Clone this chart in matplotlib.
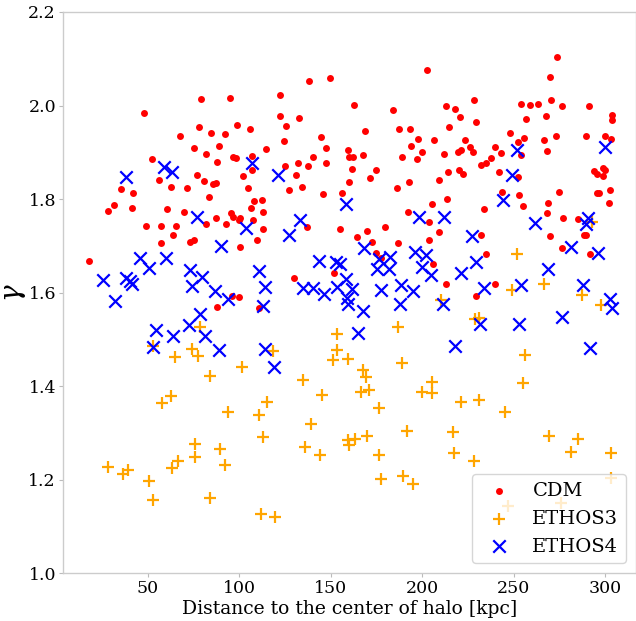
import matplotlib
matplotlib.use("Agg")
import matplotlib.pyplot as plt

cdm_x = [17.9, 79.0, 47.6, 77.9, 84.3, 67.3, 75.3, 81.9, 52.0, 56.2, 62.8, 71.2, 76.6, 80.8, 83.2, 35.2,
         41.8, 31.2, 28.3, 41.2, 60.4, 69.7, 81.5, 48.9, 56.9, 65.3, 63.7, 57.1, 72.8, 75.2, 138.1, 149.7,
         122.0, 95.0, 122.2, 132.6, 125.6, 92.4, 98.8, 105.6, 144.7, 147.4, 124.4, 88.8, 96.3, 98.1, 107.1,
         114.7, 140.4, 147.4, 159.6, 160.0, 87.5, 106.7, 124.9, 132.1, 137.4, 131.1, 134.2, 101.8, 85.7,
         87.0, 104.7, 127.3, 145.7, 156.2, 108.0, 112.5, 106.3, 112.9, 87.2, 95.4, 96.5, 100.3, 99.9, 107.6,
         92.7, 113.1, 155.0, 160.1, 109.9, 100.3, 136.8, 151.7, 130.0, 95.8, 99.6, 88.0, 110.9, 202.4,
         162.8, 183.8, 228.3, 213.2, 217.8, 220.5, 229.4, 168.8, 187.1, 193.4, 214.9, 197.7, 206.6, 194.0,
         223.6, 226.1, 227.8, 219.8, 221.4, 200.1, 189.1, 197.2, 212.0, 162.3, 167.6, 161.7, 175.0, 171.2,
         186.0, 192.8, 209.3, 214.2, 220.2, 222.3, 232.2, 234.9, 237.4, 213.6, 205.6, 233.6, 192.4, 203.9,
         179.8, 164.4, 169.6, 172.5, 174.7, 177.5, 186.6, 209.0, 203.9, 205.9, 213.0, 232.2, 234.9, 229.6,
         273.9, 269.9, 253.9, 259.1, 263.2, 270.6, 276.3, 291.4, 303.8, 303.8, 256.9, 267.7, 248.0, 255.5,
         252.4, 266.4, 273.2, 289.7, 300.1, 303.4, 240.0, 243.3, 254.2, 268.3, 242.0, 252.7, 293.8, 295.4,
         298.7, 300.3, 298.7, 243.7, 253.0, 274.6, 295.4, 296.8, 302.7, 255.3, 269.0, 302.5, 268.1, 276.8,
         285.0, 270.1, 276.6, 288.3, 289.9, 292.1, 240.0]
cdm_y = [1.667, 2.013, 1.985, 1.953, 1.942, 1.934, 1.910, 1.896, 1.886, 1.841, 1.826, 1.824, 1.852, 1.838,
         1.805, 1.821, 1.812, 1.787, 1.775, 1.780, 1.778, 1.773, 1.747, 1.742, 1.742, 1.742, 1.724, 1.705,
         1.707, 1.712, 2.052, 2.059, 2.023, 2.015, 1.978, 1.973, 1.956, 1.939, 1.958, 1.950, 1.933, 1.910,
         1.923, 1.913, 1.890, 1.888, 1.891, 1.908, 1.890, 1.877, 1.905, 1.890, 1.879, 1.861, 1.871, 1.876,
         1.871, 1.851, 1.826, 1.849, 1.832, 1.834, 1.823, 1.819, 1.811, 1.812, 1.796, 1.798, 1.781, 1.772,
         1.759, 1.769, 1.762, 1.760, 1.756, 1.755, 1.747, 1.735, 1.735, 1.837, 1.712, 1.697, 1.740, 1.641,
         1.630, 1.592, 1.590, 1.570, 1.567, 2.075, 2.001, 1.991, 2.012, 1.999, 1.993, 1.975, 1.965, 1.945,
         1.950, 1.950, 1.953, 1.929, 1.927, 1.914, 1.926, 1.911, 1.901, 1.901, 1.904, 1.901, 1.890, 1.886,
         1.896, 1.890, 1.895, 1.865, 1.862, 1.844, 1.824, 1.836, 1.840, 1.858, 1.861, 1.853, 1.872, 1.876,
         1.887, 1.799, 1.790, 1.778, 1.772, 1.750, 1.741, 1.718, 1.732, 1.709, 1.685, 1.674, 1.705, 1.729,
         1.713, 1.661, 1.619, 1.724, 1.682, 1.593, 2.104, 2.062, 2.004, 2.001, 2.003, 2.012, 2.000, 2.000,
         1.980, 1.969, 1.971, 1.977, 1.941, 1.931, 1.921, 1.927, 1.934, 1.934, 1.934, 1.928, 1.911, 1.898,
         1.894, 1.902, 1.858, 1.846, 1.859, 1.853, 1.866, 1.862, 1.849, 1.816, 1.808, 1.814, 1.812, 1.812,
         1.819, 1.784, 1.791, 1.791, 1.770, 1.760, 1.757, 1.721, 1.695, 1.724, 1.722, 1.683, 1.619]

e3_x = [78.3, 52.7, 73.9, 77.5, 64.8, 84.0, 62.4, 57.5, 75.7, 75.7, 66.6, 63.3, 28.3, 36.1, 39.2, 50.4,
        52.7, 84.0, 153.5, 153.5, 151.3, 159.4, 118.4, 101.4, 134.8, 145.0, 115.2, 93.9, 110.9, 139.3,
        112.9, 136.0, 144.1, 89.2, 92.3, 111.8, 119.6, 210.3, 228.9, 231.2, 186.6, 189.0, 167.7, 169.3,
        205.6, 166.3, 171.0, 176.2, 200.1, 205.4, 221.2, 231.0, 159.6, 160.2, 163.2, 169.6, 191.7, 216.8,
        176.5, 217.4, 228.6, 177.3, 189.5, 195.0, 292.9, 252.0, 266.6, 249.4, 287.5, 297.6, 256.5, 255.1,
        245.3, 269.4, 285.2, 281.2, 303.1, 303.1, 247.1, 276.1]
e3_y = [1.527, 1.486, 1.480, 1.464, 1.462, 1.421, 1.379, 1.363, 1.277, 1.249, 1.240, 1.225, 1.227, 1.211,
        1.220, 1.197, 1.156, 1.160, 1.511, 1.477, 1.456, 1.457, 1.474, 1.440, 1.413, 1.381, 1.366, 1.344,
        1.337, 1.318, 1.290, 1.270, 1.253, 1.265, 1.230, 1.126, 1.120, 1.585, 1.544, 1.546, 1.527, 1.449,
        1.434, 1.420, 1.408, 1.388, 1.391, 1.354, 1.388, 1.386, 1.366, 1.369, 1.284, 1.274, 1.287, 1.292,
        1.304, 1.302, 1.252, 1.257, 1.239, 1.201, 1.207, 1.190, 1.750, 1.682, 1.618, 1.605, 1.594, 1.573,
        1.466, 1.406, 1.344, 1.292, 1.286, 1.259, 1.257, 1.204, 1.143, 1.149]

e4_x = [38.1, 58.6, 63.3, 76.6, 45.8, 59.8, 50.4, 25.2, 37.8, 40.2, 41.2, 31.9, 73.1, 79.3, 73.9, 78.4,
        72.2, 54.5, 63.5, 81.2, 52.7, 107.1, 121.3, 158.3, 133.0, 103.4, 127.1, 89.9, 143.7, 152.6, 155.0,
        111.0, 114.2, 135.0, 140.5, 146.3, 153.5, 158.3, 159.0, 159.2, 86.8, 93.8, 112.9, 88.8, 113.8,
        119.1, 198.4, 212.0, 168.2, 176.2, 182.4, 175.5, 181.7, 196.2, 201.9, 199.7, 204.6, 221.2, 227.4,
        229.6, 233.8, 161.4, 167.4, 177.7, 188.6, 195.1, 187.9, 211.5, 231.6, 164.7, 217.7, 252.0, 300.3,
        248.9, 244.2, 261.9, 291.0, 289.9, 281.4, 296.2, 269.1, 254.2, 288.1, 302.7, 303.8, 276.3, 253.0,
        292.1]
e4_y = [1.847, 1.869, 1.857, 1.761, 1.674, 1.673, 1.653, 1.627, 1.630, 1.624, 1.618, 1.582, 1.648, 1.633,
        1.614, 1.555, 1.530, 1.519, 1.506, 1.506, 1.484, 1.878, 1.851, 1.789, 1.755, 1.739, 1.724, 1.700,
        1.668, 1.665, 1.662, 1.647, 1.612, 1.610, 1.610, 1.597, 1.612, 1.628, 1.588, 1.575, 1.603, 1.586,
        1.571, 1.478, 1.479, 1.440, 1.761, 1.761, 1.696, 1.672, 1.675, 1.650, 1.650, 1.687, 1.680, 1.654,
        1.637, 1.642, 1.721, 1.666, 1.609, 1.607, 1.561, 1.606, 1.615, 1.604, 1.576, 1.575, 1.533, 1.514,
        1.485, 1.905, 1.912, 1.852, 1.798, 1.748, 1.760, 1.747, 1.698, 1.684, 1.650, 1.615, 1.616, 1.586,
        1.566, 1.548, 1.532, 1.482]

y_ticks = [1.0, 1.2, 1.4, 1.6, 1.8, 2.0, 2.2]
x_ticks = [50, 100, 150, 200, 250, 300]

plt.rcParams['font.family'] = ['DejaVu Serif']
plt.rcParams['mathtext.fontset'] = 'dejavuserif'

fig = plt.figure(figsize=(6.36, 6.21), dpi=100)
ax = fig.add_axes([63 / 636, (621 - 573) / 621, 1 - 63 / 636, (573 - 12) / 621])

ax.scatter(cdm_x, cdm_y, s=25, c='red', marker='o', label='CDM', linewidths=0)
ax.scatter(e3_x, e3_y, s=80, c='orange', marker='+', label='ETHOS3', linewidths=1.6)
ax.scatter(e4_x, e4_y, s=80, c='blue', marker='x', label='ETHOS4', linewidths=1.6)

ax.set_xlim(3.5, 317.0)
ax.set_ylim(1.0, 2.2)
ax.set_xticks(x_ticks)
ax.set_yticks(y_ticks)
ax.tick_params(labelsize=12.5, length=3, width=0.8, color='#bbbbbb', pad=2)
for name, sp in ax.spines.items():
    sp.set_color('#cccccc')
    sp.set_linewidth(1.0)

ax.set_xlabel('Distance to the center of halo [kpc]', fontsize=13.5, labelpad=2)
ax.set_ylabel(r'$\gamma$', fontsize=20, labelpad=0)

ax.legend(loc='lower right', fontsize=14, frameon=True, handletextpad=0.7)

fig.savefig('out.png', dpi=100)
